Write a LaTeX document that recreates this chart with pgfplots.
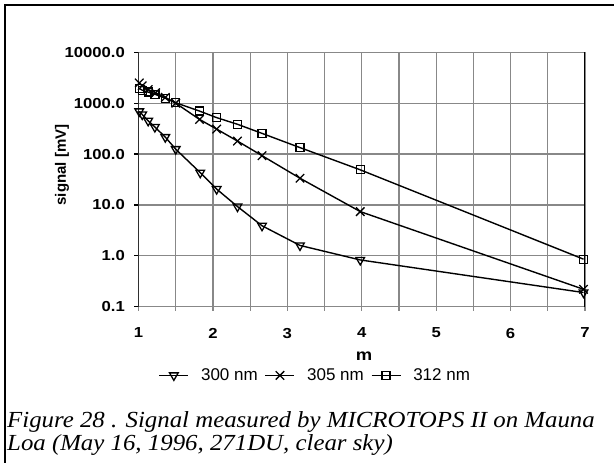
\documentclass[border=0pt]{standalone}
\usepackage{fontspec}
\usepackage{pgfplots}
\pgfplotsset{compat=1.18}
\newfontfamily\arialfont{Liberation Sans}[FakeStretch=1.15]
\newfontfamily\legfont{Liberation Sans}
\newfontfamily\capfont{Liberation Serif}[FakeStretch=1.08]
\definecolor{gridgray}{RGB}{136,136,136}
\begin{document}
\begin{tikzpicture}
\useasboundingbox (0pt,0pt) rectangle (614pt,-463pt);
\draw[line width=2pt] (5pt,-463pt) -- (5pt,-5pt) -- (614pt,-5pt);
\begin{axis}[
    at={(138.5pt,-306.7pt)}, anchor=south west,
    scale only axis, width=446.5pt, height=254.4pt,
    ymode=log, xmin=1, xmax=7, ymin=0.1, ymax=10000,
    xtick={1,...,7}, minor xtick={1.5,2.5,...,6.5},
    ytick={0.1,1,10,100,1000,10000},
    yticklabels={0.1,1.0,10.0,100.0,1000.0,10000.0},
    yminorticks=false,
    xmajorgrids=true, xminorgrids=true, ymajorgrids=true, yminorgrids=false,
    major grid style={gridgray, line width=1.2pt},
    minor grid style={gridgray, line width=1.2pt},
    axis line style={gridgray, line width=1.2pt},
    tick align=outside, xtick pos=bottom, ytick pos=left,
    major tick length=4pt, minor tick length=4pt,
    xtick style={gridgray, line width=1.2pt},
    ytick style={black, line width=1.2pt},
    /pgf/number format/assume math mode=true,
    ticklabel style={font=\arialfont\bfseries\fontsize{14.5}{14.5}\selectfont},
    xticklabel style={inner sep=0pt, yshift=-17pt},
    yticklabel style={inner sep=0pt, xshift=-9.5pt},
    legend columns=3,
    legend style={at={(axis description cs:0.396,-0.27)}, anchor=center,
      draw=none, fill=none, font=\legfont\fontsize{17}{17}\selectfont,
      /tikz/every odd column/.append style={column sep=10pt},
      /tikz/every even column/.append style={column sep=5pt}},
    legend image code/.code={%
      \draw[mark repeat=2, mark phase=2, #1] plot coordinates {(0pt,0pt) (14.5pt,0pt) (29pt,0pt)};},
    every axis plot/.append style={black, line width=1.4pt},
  ]
  \draw[black, line width=1.5pt] (rel axis cs:0,0) -- (rel axis cs:0,1);
  \draw[black, line width=1.5pt] (rel axis cs:1,0) -- (rel axis cs:1,1);
  \addplot[mark=triangle, mark size=5pt, mark options={solid, rotate=180, line width=1.3pt}]
    coordinates {(1.01,690)(1.05,600)(1.13,450)(1.22,340)(1.36,215)(1.5,125)(1.83,43)(2.05,20.5)(2.33,9.3)(2.66,3.9)(3.17,1.6)(3.98,0.83)(6.98,0.19)};
  \addlegendentry{300 nm}
  \addplot[mark=x, mark size=6pt, mark options={solid, line width=1.3pt}]
    coordinates {(1.01,2500)(1.05,2200)(1.13,1850)(1.23,1600)(1.36,1300)(1.5,1000)(1.82,480)(2.05,310)(2.33,180)(2.66,93)(3.17,33.5)(3.98,7.4)(6.98,0.22)};
  \addlegendentry{305 nm}
  \addplot[mark=square, mark size=4pt, mark options={solid, line width=1.3pt}]
    coordinates {(1.01,1950)(1.05,1800)(1.13,1650)(1.22,1500)(1.36,1250)(1.5,1020)(1.82,700)(2.05,520)(2.33,385)(2.66,255)(3.17,134)(3.98,49)(6.98,0.86)};
  \addlegendentry{312 nm}
\end{axis}
\node[rotate=90, font=\legfont\bfseries\fontsize{15}{15}\selectfont] at (62pt,-165pt) {signal [mV]};
\node[font=\arialfont\bfseries\fontsize{16}{16}\selectfont] at (364pt,-356pt) {m};
\node[anchor=base west, inner sep=0pt, font=\capfont\itshape\fontsize{23}{23}\selectfont] at (7pt,-427pt) {Figure 28 . Signal measured by MICROTOPS II on Mauna};
\node[anchor=base west, inner sep=0pt, font=\capfont\itshape\fontsize{23}{23}\selectfont] at (7pt,-450pt) {Loa (May 16, 1996, 271DU, clear sky)};
\end{tikzpicture}
\end{document}
